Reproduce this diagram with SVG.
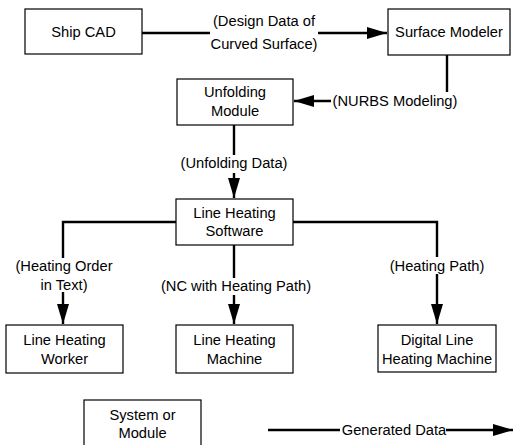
<svg xmlns="http://www.w3.org/2000/svg" width="514" height="445" viewBox="0 0 514 445">
<defs>
<style>
.box{fill:#fff;stroke:#000;stroke-width:1.2}
.t{font-family:"Liberation Sans",Arial,sans-serif;font-size:14.7px;fill:#000;text-anchor:middle}
.c{fill:none;stroke:#000;stroke-width:2.4}
.bg{fill:#fff}
</style>
<marker id="ah" viewBox="0 0 20 12" refX="20" refY="6" markerWidth="20" markerHeight="12" markerUnits="userSpaceOnUse" orient="auto">
<path d="M0,0 L20,6 L0,12 Z" fill="#000"/>
</marker>
</defs>
<rect width="514" height="445" fill="#fff"/>
<g id="connectors">
<path class="c" d="M142,33 H387" marker-end="url(#ah)"/>
<path class="c" d="M447,55 V101 H294" marker-end="url(#ah)"/>
<path class="c" d="M234,125 V198" marker-end="url(#ah)"/>
<path class="c" d="M176,222 H63 V324" marker-end="url(#ah)"/>
<path class="c" d="M234,245 V324" marker-end="url(#ah)"/>
<path class="c" d="M293,222 H437 V324" marker-end="url(#ah)"/>
<path class="c" d="M268,430 H513" marker-end="url(#ah)"/>
<rect class="bg" x="210" y="13" width="108" height="41"/>
<text class="t" x="264" y="26">(Design Data of</text>
<text class="t" x="264" y="49">Curved Surface)</text>
<rect class="bg" x="331" y="92" width="128" height="18"/>
<text class="t" x="395" y="106">(NURBS Modeling)</text>
<rect class="bg" x="180" y="155" width="108" height="18"/>
<text class="t" x="234" y="168">(Unfolding Data)</text>
<rect class="bg" x="12" y="258" width="104" height="34"/>
<text class="t" x="64" y="271">(Heating Order</text>
<text class="t" x="64" y="290">in Text)</text>
<rect class="bg" x="160" y="278" width="152" height="17"/>
<text class="t" x="236" y="291">(NC with Heating Path)</text>
<rect class="bg" x="388" y="257" width="98" height="17"/>
<text class="t" x="437" y="271">(Heating Path)</text>
<rect class="bg" x="340" y="422" width="106" height="16"/>
<text class="t" x="394" y="435">Generated Data</text>
</g>
<g id="ship-cad"><rect class="box" x="25" y="9" width="117" height="45"/><text class="t" x="83.5" y="37">Ship CAD</text></g>
<g id="surface-modeler"><rect class="box" x="388" y="9" width="122" height="46"/><text class="t" x="449" y="37">Surface Modeler</text></g>
<g id="unfolding-module"><rect class="box" x="177" y="79" width="116" height="46"/><text class="t" x="235" y="97">Unfolding</text><text class="t" x="235" y="116">Module</text></g>
<g id="line-heating-software"><rect class="box" x="176" y="199" width="117" height="46"/><text class="t" x="234.5" y="218">Line Heating</text><text class="t" x="234.5" y="236">Software</text></g>
<g id="line-heating-worker"><rect class="box" x="6" y="325" width="117" height="48"/><text class="t" x="64.5" y="345">Line Heating</text><text class="t" x="64.5" y="364">Worker</text></g>
<g id="line-heating-machine"><rect class="box" x="176" y="325" width="117" height="48"/><text class="t" x="234.5" y="345">Line Heating</text><text class="t" x="234.5" y="364">Machine</text></g>
<g id="digital-line-heating-machine"><rect class="box" x="378" y="325" width="118" height="47"/><text class="t" x="437" y="345">Digital Line</text><text class="t" x="437" y="364">Heating Machine</text></g>
<g id="legend-system"><rect class="box" x="84" y="400" width="117" height="50"/><text class="t" x="142.5" y="420">System or</text><text class="t" x="142.5" y="438">Module</text></g>
</svg>
